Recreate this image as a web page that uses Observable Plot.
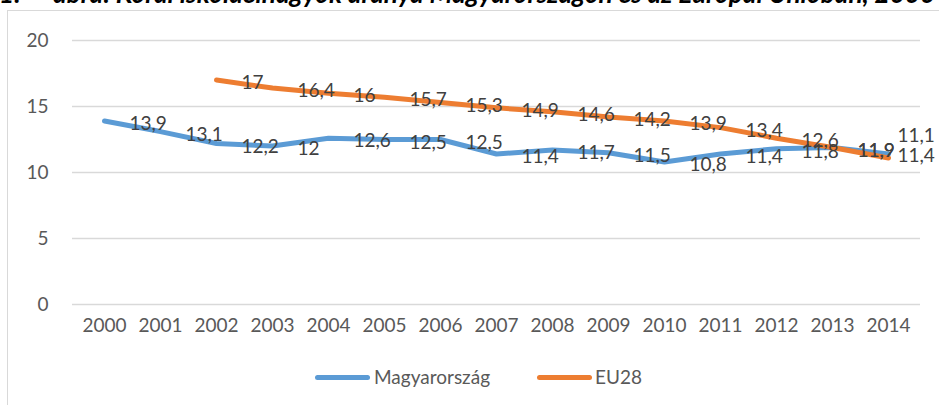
<!DOCTYPE html>
<html><head><meta charset="utf-8">
<script src="https://cdn.jsdelivr.net/npm/d3@7"></script>
<script src="https://cdn.jsdelivr.net/npm/@observablehq/plot@0.6"></script>
<style>
body{margin:0;background:#fff;}
#wrap{position:relative;width:939px;height:405px;overflow:hidden;font-family:Lato,"Open Sans",sans-serif;}
#frame{position:absolute;left:7px;top:10px;width:1000px;height:500px;border:1px solid #d9d9d9;box-sizing:border-box;}
#title{position:absolute;top:-20px;left:0;width:1400px;height:30px;white-space:nowrap;font-weight:bold;font-style:italic;font-size:26.2px;line-height:26.2px;color:#000;}
#title .num{position:absolute;left:-1px;}
#title .txt{position:absolute;left:53px;}
#chart{position:absolute;left:0;top:0;}
#legend{position:absolute;top:365px;left:0;width:939px;height:24px;font-size:19px;color:#595959;}
.sw{position:absolute;top:10px;height:5px;border-radius:3px;width:55px;}
.lt{position:absolute;top:0;line-height:24px;}
</style></head>
<body>
<div id="wrap">
  <div id="frame"></div>
  <div id="title"><span class="num">1.</span><span class="txt">ábra: Korai iskolaelhagyók aránya Magyarországon és az Európai Unióban, 2000-2014</span></div>
  <div id="chart"></div>
  <div id="legend">
    <div class="sw" style="left:315px;background:#5B9BD5"></div><div class="lt" style="left:374px">Magyarország</div>
    <div class="sw" style="left:537px;background:#ED7D31"></div><div class="lt" style="left:595px">EU28</div>
  </div>
</div>
<script>
const years = ["2000","2001","2002","2003","2004","2005","2006","2007","2008","2009","2010","2011","2012","2013","2014"];
const hungary = [13.9,13.1,12.2,12.0,12.6,12.5,12.5,11.4,11.7,11.5,10.8,11.4,11.8,11.9,11.4];
const eu28 = [null,null,17.0,16.4,16.0,15.7,15.3,14.9,14.6,14.2,13.9,13.4,12.6,11.9,11.1];
const yTicks = [0,5,10,15,20];
const seriesNames = ["Magyarország","EU28"];
const colors = ["#5B9BD5","#ED7D31"];

const rows = [];
years.forEach((y,i)=>{
  if (hungary[i]!=null) rows.push({year:y, series:seriesNames[0], value:hungary[i], last:i===years.length-1});
});
years.forEach((y,i)=>{
  if (eu28[i]!=null) rows.push({year:y, series:seriesNames[1], value:eu28[i], last:i===years.length-1});
});
const fmt = v => String(v).replace(".", ",");
const hu = rows.filter(d=>d.series===seriesNames[0]);
const eu = rows.filter(d=>d.series===seriesNames[1]);

const chart = Plot.plot({
  width: 939,
  height: 350,
  marginLeft: 72,
  marginRight: 19,
  marginTop: 40,
  marginBottom: 46,
  style: {fontFamily: "Lato, 'Open Sans', sans-serif", fontSize: "19px", color: "#595959", background: "transparent"},
  x: {type: "point", domain: years, padding: 0.5, label: null, tickSize: 0, tickPadding: 14},
  y: {domain: [0,20], ticks: yTicks, label: null, tickSize: 0, tickPadding: 24, tickFormat: d=>String(d)},
  marks: [
    Plot.ruleY(yTicks, {stroke: "#d9d9d9", strokeWidth: 1.3}),
    Plot.line(hu, {x: "year", y: "value", stroke: colors[0], strokeWidth: 5, strokeLinecap: "round", strokeLinejoin: "round"}),
    Plot.line(eu, {x: "year", y: "value", stroke: colors[1], strokeWidth: 5, strokeLinecap: "round", strokeLinejoin: "round"}),
    Plot.text(hu.filter(d=>!d.last), {x: "year", y: "value", text: d=>fmt(d.value), textAnchor: "start", dx: 25, dy: 3, fill: "#404040", fontSize: 19}),
    Plot.text(eu.filter(d=>!d.last), {x: "year", y: "value", text: d=>fmt(d.value), textAnchor: "start", dx: 25, dy: 3, fill: "#404040", fontSize: 19}),
    Plot.text(hu.filter(d=>d.last), {x: "year", y: "value", text: d=>fmt(d.value), textAnchor: "start", dx: 9, dy: 2, fill: "#404040", fontSize: 19}),
    Plot.text(eu.filter(d=>d.last), {x: "year", y: "value", text: d=>fmt(d.value), textAnchor: "start", dx: 9, dy: -22, fill: "#404040", fontSize: 19})
  ]
});
document.getElementById("chart").appendChild(chart);
</script>
</body></html>
